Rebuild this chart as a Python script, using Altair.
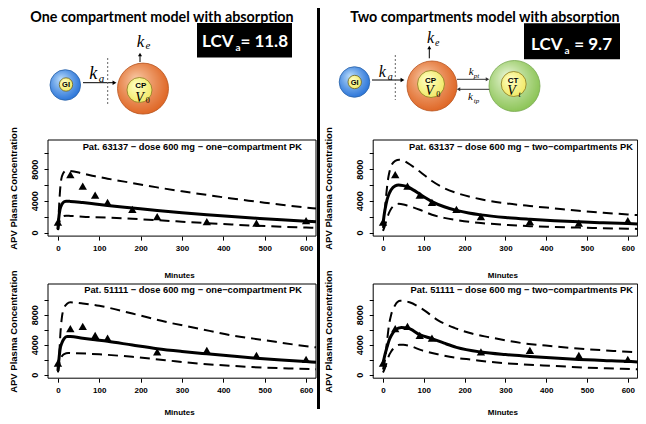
import altair as alt
import pandas as pd

# ------------------------------------------------------------------ data
obs_time_63137 = [0, 30, 60, 90, 120, 180, 240, 360, 480, 600]
obs_conc_63137 = [1300, 7320, 5870, 4720, 3800, 2920, 2000, 1380, 1180, 1500]
obs_time_51111 = [0, 30, 60, 90, 120, 240, 360, 480, 600]
obs_conc_51111 = [1550, 6130, 6450, 5250, 4890, 3030, 3250, 2580, 2050]

# one-compartment PK, patient 63137
one63_fit_t = [0, 2, 5, 10, 15, 20, 30, 60, 90, 120, 180, 240, 300, 360, 420, 480, 540, 600, 624]
one63_fit_v = [400, 1800, 2900, 3600, 3880, 3950, 3930, 3780, 3600, 3420, 3100, 2780, 2500, 2240, 2010, 1800, 1600, 1430, 1370]
one63_up_t = [0, 2, 5, 8, 12, 20, 30, 60, 90, 120, 180, 240, 300, 360, 420, 480, 540, 600, 624]
one63_up_v = [500, 2500, 5200, 6700, 7400, 7800, 7780, 7450, 7100, 6800, 6250, 5700, 5200, 4750, 4300, 3900, 3500, 3150, 3020]
one63_lo_t = [0, 3, 6, 10, 20, 30, 60, 120, 180, 240, 300, 360, 420, 480, 540, 600, 624]
one63_lo_v = [300, 1200, 1700, 2000, 2130, 2100, 2000, 1900, 1730, 1560, 1370, 1180, 1010, 860, 740, 640, 600]

# two-compartments PK, patient 63137
two63_fit_t = [0, 2, 5, 10, 15, 20, 30, 38, 50, 60, 75, 90, 105, 120, 150, 180, 210, 240, 300, 360, 420, 480, 540, 600, 624]
two63_fit_v = [1000, 1900, 2900, 4150, 4900, 5400, 5900, 6000, 5920, 5780, 5350, 4850, 4350, 3900, 3250, 2800, 2470, 2230, 1900, 1680, 1500, 1350, 1230, 1130, 1090]
two63_up_t = [0, 4, 8, 12, 16, 20, 30, 40, 50, 60, 90, 120, 150, 180, 240, 300, 360, 420, 480, 540, 600, 624]
two63_up_v = [600, 2500, 4800, 6600, 7700, 8400, 9050, 9200, 9100, 8800, 7700, 6500, 5600, 5000, 4200, 3700, 3350, 3050, 2750, 2500, 2280, 2200]
two63_lo_t = [0, 5, 10, 15, 20, 30, 38, 50, 60, 90, 120, 150, 180, 240, 300, 360, 420, 480, 540, 600, 624]
two63_lo_v = [200, 900, 1800, 2500, 3000, 3500, 3620, 3550, 3400, 2880, 2250, 1850, 1580, 1200, 980, 800, 700, 620, 550, 480, 460]

# one-compartment PK, patient 51111
one51_fit_t = [0, 2, 5, 10, 15, 22, 30, 60, 90, 120, 180, 240, 300, 360, 420, 480, 540, 600, 624]
one51_fit_v = [500, 1800, 3300, 4300, 4800, 5080, 5080, 4850, 4650, 4450, 3950, 3470, 3100, 2780, 2480, 2200, 1960, 1750, 1670]
one51_up_t = [0, 3, 6, 10, 15, 22, 30, 45, 60, 100, 180, 260, 340, 420, 500, 580, 624]
one51_up_v = [600, 2500, 5500, 7800, 8900, 9450, 9650, 9600, 9500, 9180, 8150, 7050, 6150, 5250, 4600, 3950, 3650]
one51_lo_t = [0, 3, 6, 10, 15, 25, 40, 100, 180, 260, 340, 420, 500, 580, 624]
one51_lo_v = [300, 1300, 2000, 2500, 2750, 2900, 2880, 2720, 2380, 1930, 1490, 1180, 940, 800, 720]

# two-compartments PK, patient 51111
two51_fit_t = [0, 5, 10, 15, 20, 30, 45, 60, 90, 120, 150, 180, 240, 300, 360, 420, 480, 540, 600, 624]
two51_fit_v = [1500, 2700, 3700, 4600, 5200, 5950, 6280, 6220, 5350, 4800, 4200, 3650, 3020, 2680, 2440, 2220, 2040, 1910, 1780, 1700]
two51_up_t = [0, 5, 10, 15, 20, 30, 42, 55, 65, 95, 135, 175, 220, 260, 340, 420, 500, 580, 624]
two51_up_v = [700, 2000, 4500, 6700, 8000, 9300, 9850, 9800, 9650, 8800, 7250, 6250, 5450, 5000, 4220, 3780, 3400, 3120, 2980]
two51_lo_t = [0, 5, 10, 15, 20, 30, 40, 50, 63, 96, 136, 177, 218, 259, 340, 422, 504, 585, 624]
two51_lo_v = [300, 900, 1800, 2600, 3100, 3700, 3980, 3980, 3870, 3240, 2710, 2270, 2000, 1730, 1380, 1160, 930, 800, 710]

x_ticks = [0, 100, 200, 300, 400, 500, 600]
y_ticks = [0, 2000, 4000, 6000, 8000, 10000]
panel_titles = [
    "Pat. 63137 \u2212 dose 600 mg \u2212 one\u2212compartment PK",
    "Pat. 63137 \u2212 dose 600 mg \u2212 two\u2212compartments PK",
    "Pat. 51111 \u2212 dose 600 mg \u2212 one\u2212compartment PK",
    "Pat. 51111 \u2212 dose 600 mg \u2212 two\u2212compartments PK",
]
model_titles = ["One compartment model with absorption", "Two compartments model with absorption"]
lcv_values = ["= 11.8", "= 9.7"]

# ------------------------------------------------------------------ layout
W, H = 630, 408
FONT = "Liberation Sans"
SERIF = "Liberation Serif"
TITLE_FONT = "Lato"
X_DOMAIN = [-24, 624]
Y_DOM_TOP = [-450, 11680]
Y_DOM_BOT = [-465, 12090]
DUMMY = pd.DataFrame({"d": [0]})


def panel(fit, up, lo, obs, title, xr, yr, ydom, ytitle_x, xtitle_y, tpos):
    xs = alt.Scale(domain=X_DOMAIN, range=xr, zero=False, nice=False)
    ys = alt.Scale(domain=ydom, range=yr, zero=False, nice=False)
    xa = alt.Axis(orient="bottom", offset=yr[0] - H, values=x_ticks, format="d",
                  domain=False, grid=False, tickSize=4, tickColor="black", tickWidth=1,
                  labelFont=FONT, labelFontSize=8, labelFontWeight="bold", labelColor="black",
                  labelPadding=4.5, labelBaseline="top", labelAlign="center",
                  labelFlush=False, labelOverlap=False,
                  title="Minutes", titleFont=FONT, titleFontSize=8, titleFontWeight="bold",
                  titleColor="black", titleX=(xr[0] + xr[1]) / 2 - 3, titleY=xtitle_y,
                  titleBaseline="middle", titleAlign="center")
    ya = alt.Axis(orient="left", offset=-xr[0], values=y_ticks, format="d",
                  labelExpr="datum.value % 4000 === 0 ? datum.label : ''",
                  domain=False, grid=False, tickSize=4, tickColor="black", tickWidth=1,
                  labelFont=FONT, labelFontSize=9, labelFontWeight="bold", labelColor="black",
                  labelAngle=270, labelAlign="center", labelBaseline="alphabetic",
                  labelPadding=6.6, labelOverlap=False, labelFlush=False,
                  title="APV Plasma Concentration", titleFont=FONT, titleFontSize=9.5,
                  titleFontWeight="bold", titleColor="black", titleAngle=270,
                  titleX=ytitle_x - xr[0], titleY=(yr[0] + yr[1]) / 2,
                  titleBaseline="middle", titleAlign="center")

    def X(f):
        return alt.X(f, type="quantitative", scale=xs, axis=xa)

    def Y(f):
        return alt.Y(f, type="quantitative", scale=ys, axis=ya)

    fit_df = pd.DataFrame({"t": fit[0], "v": fit[1]})
    band_df = pd.concat([
        pd.DataFrame({"t": up[0], "v": up[1], "band": "upper"}),
        pd.DataFrame({"t": lo[0], "v": lo[1], "band": "lower"}),
    ])
    obs_df = pd.DataFrame({"t": obs[0], "v": obs[1]})
    frame_df = pd.DataFrame({"t": [X_DOMAIN[0]], "t2": [X_DOMAIN[1]],
                             "v": [ydom[0]], "v2": [ydom[1]]})

    frame = alt.Chart(frame_df).mark_rect(fillOpacity=0, stroke="black", strokeWidth=1).encode(
        x=X("t"), x2="t2", y=Y("v"), y2="v2")
    bands = alt.Chart(band_df).mark_line(color="black", strokeWidth=2, strokeDash=[10, 6],
                                         interpolate="monotone").encode(
        x=X("t"), y=Y("v"), detail="band:N")
    fitl = alt.Chart(fit_df).mark_line(color="black", strokeWidth=3, interpolate="monotone").encode(
        x=X("t"), y=Y("v"))
    pts = alt.Chart(obs_df).mark_point(shape="triangle-up", filled=True, size=70,
                                       color="black", opacity=1).encode(x=X("t"), y=Y("v"))
    ttl = alt.Chart(DUMMY).mark_text(text=title, align="right", baseline="middle", font=FONT,
                                     fontSize=9.3, fontWeight="bold", color="black").encode(
        x=alt.value(tpos[0]), y=alt.value(tpos[1]))
    return alt.layer(frame, bands, fitl, pts, ttl)


def txt(s, x, y, size, font=FONT, weight="normal", style="normal", color="black",
        align="left", baseline="alphabetic"):
    return alt.Chart(DUMMY).mark_text(text=s, font=font, fontSize=size, fontWeight=weight,
                                      fontStyle=style, color=color, align=align,
                                      baseline=baseline).encode(x=alt.value(x), y=alt.value(y))


def seg(x1, y1, x2, y2, color="black", width=1.0, dash=None):
    kw = dict(color=color, strokeWidth=width)
    if dash:
        kw["strokeDash"] = dash
    return alt.Chart(DUMMY).mark_rule(**kw).encode(
        x=alt.value(x1), y=alt.value(y1), x2=alt.value(x2), y2=alt.value(y2))


def head(x, y, shape, size=24, color="black"):
    return alt.Chart(DUMMY).mark_point(shape=shape, filled=True, size=size, color=color,
                                       opacity=1).encode(x=alt.value(x), y=alt.value(y))


def grad(c0, c1):
    return alt.RadialGradient(gradient="radial",
                              stops=[alt.GradientStop(color=c0, offset=0),
                                     alt.GradientStop(color=c1, offset=1)],
                              x1=0.35, y1=0.3, r1=0, x2=0.45, y2=0.45, r2=0.62)


def disc(x, y, r, fill, stroke, sw=0.8):
    return alt.Chart(DUMMY).mark_circle(fill=fill, stroke=stroke, strokeWidth=sw, opacity=1).encode(
        x=alt.value(x), y=alt.value(y), size=alt.value(4 * r * r))


def rect(x1, y1, x2, y2, color="black"):
    return alt.Chart(DUMMY).mark_rect(color=color).encode(
        x=alt.value(x1), x2=alt.value(x2), y=alt.value(y1), y2=alt.value(y2))


BLUE = grad("#b9dcfa", "#1f6cd6")
ORANGE = grad("#f8c7a2", "#dd5f1c")
GREEN = grad("#e9f5d6", "#84c04c")
YELLOW = grad("#ffffc8", "#f0e860")

layers = []
# panels
layers.append(panel((one63_fit_t, one63_fit_v), (one63_up_t, one63_up_v), (one63_lo_t, one63_lo_v),
                    (obs_time_63137, obs_conc_63137), panel_titles[0],
                    [40, 308], [228.1, 132], Y_DOM_TOP, 5, 39, (294, 139.3)))
layers.append(panel((two63_fit_t, two63_fit_v), (two63_up_t, two63_up_v), (two63_lo_t, two63_lo_v),
                    (obs_time_63137, obs_conc_63137), panel_titles[1],
                    [365.2, 629.6], [228.1, 132], Y_DOM_TOP, 320, 39, (625, 139.3)))
layers.append(panel((one51_fit_t, one51_fit_v), (one51_up_t, one51_up_v), (one51_lo_t, one51_lo_v),
                    (obs_time_51111, obs_conc_51111), panel_titles[2],
                    [40, 308], [370.2, 276], Y_DOM_BOT, 5, 34, (294, 282.3)))
layers.append(panel((two51_fit_t, two51_fit_v), (two51_up_t, two51_up_v), (two51_lo_t, two51_lo_v),
                    (obs_time_51111, obs_conc_51111), panel_titles[3],
                    [365.2, 629.6], [370.2, 276], Y_DOM_BOT, 320, 34, (625, 282.3)))

# separator
layers.append(seg(310.5, 0, 310.5, 401, width=3))

# ---- left diagram
layers += [
    txt(model_titles[0], 154, 13.5, 14.3, font=TITLE_FONT, weight="bold", align="center"),
    rect(189, 15, 284, 49.5),
    txt("LCV", 194, 38.7, 17, font=TITLE_FONT, weight="bold", color="white"),
    txt("a", 227.5, 42.5, 10, font=TITLE_FONT, weight="bold", color="white"),
    txt(lcv_values[0], 280, 38.7, 17, font=TITLE_FONT, weight="bold", color="white", align="right"),
    disc(57.3, 77, 15.3, BLUE, "#2b63a8"),
    disc(58, 76.5, 6.7, YELLOW, "#6b6020"),
    txt("GI", 58, 77, 7.5, weight="bold", align="center", baseline="middle"),
    seg(75, 74.7, 106, 74.7, width=1),
    head(106.5, 74.7, "triangle-right", 20),
    txt("k", 81.3, 71.3, 18, font=SERIF, style="italic"),
    txt("a", 90.8, 73.7, 11, font=SERIF, style="italic"),
    seg(99.7, 50, 99.7, 97, color="#666666", width=1, dash=[2, 2]),
    disc(135, 80.6, 25.5, ORANGE, "#b8541e"),
    disc(131.5, 82, 12.5, YELLOW, "#8a7a20"),
    txt("CP", 132.8, 78, 8, weight="bold", align="center", baseline="middle"),
    txt("V", 131.5, 93.7, 14, font=SERIF, style="italic", align="center"),
    txt("0", 137.8, 95, 8, font=SERIF),
    seg(132, 47, 132, 54, width=1),
    head(132, 46.5, "triangle-up", 16),
    txt("k", 128.7, 38.7, 17, font=SERIF, style="italic"),
    txt("e", 137.5, 41, 11, font=SERIF, style="italic"),
]

# ---- right diagram
layers += [
    txt(model_titles[1], 477, 13.5, 14.3, font=TITLE_FONT, weight="bold", align="center"),
    rect(516, 15.3, 612, 51.3),
    txt("LCV", 523, 42, 17, font=TITLE_FONT, weight="bold", color="white"),
    txt("a", 556.5, 45.8, 10, font=TITLE_FONT, weight="bold", color="white"),
    txt(lcv_values[1], 604, 42, 17, font=TITLE_FONT, weight="bold", color="white", align="right"),
    disc(346.5, 74, 15.3, BLUE, "#2b63a8"),
    disc(346.7, 74, 6.7, YELLOW, "#6b6020"),
    txt("GI", 346.7, 74.5, 7.5, weight="bold", align="center", baseline="middle"),
    seg(364, 72, 394, 72, width=1),
    head(394.5, 72, "triangle-right", 20),
    txt("k", 370.7, 68.7, 16, font=SERIF, style="italic"),
    txt("a", 379.7, 72, 10, font=SERIF, style="italic"),
    seg(387.3, 47, 387.3, 92, color="#666666", width=1, dash=[2, 2]),
    disc(424, 78, 25, ORANGE, "#b8541e"),
    disc(423, 76, 13.5, YELLOW, "#8a7a20"),
    txt("CP", 422.5, 73, 8, weight="bold", align="center", baseline="middle"),
    txt("V", 421.5, 87, 14, font=SERIF, style="italic", align="center"),
    txt("0", 428.3, 89, 8, font=SERIF),
    seg(421.3, 40, 421.3, 50.3, width=1),
    head(421.3, 39.5, "triangle-up", 16),
    txt("k", 419, 35.3, 16, font=SERIF, style="italic"),
    txt("e", 427, 37.5, 10, font=SERIF, style="italic"),
    disc(506.5, 78, 25.5, GREEN, "#78a850"),
    disc(505.7, 76, 12.5, YELLOW, "#8a7a20"),
    txt("CT", 505, 73, 8, weight="bold", align="center", baseline="middle"),
    txt("V", 503.5, 87, 14, font=SERIF, style="italic", align="center"),
    txt("t", 510.5, 89, 8, font=SERIF, style="italic"),
    seg(449, 71.3, 479, 71.3, color="#333333", width=1),
    head(479.5, 71.3, "triangle-right", 16, color="#333333"),
    seg(451, 81.3, 481.3, 81.3, color="#333333", width=1),
    head(450.5, 81.3, "triangle-left", 16, color="#333333"),
    txt("k", 460.7, 67, 11, font=SERIF, style="italic"),
    txt("pt", 465.7, 69.5, 7, font=SERIF, style="italic"),
    txt("k", 460, 92, 11, font=SERIF, style="italic"),
    txt("tp", 465.7, 94.5, 7, font=SERIF, style="italic"),
]

chart = alt.layer(*layers).resolve_scale(x="independent", y="independent").properties(
    width=W, height=H, autosize=alt.AutoSizeParams(type="none"), padding=0
).configure_view(stroke=None)

chart.save("out.html", embed_options={"renderer": "svg", "actions": False})
